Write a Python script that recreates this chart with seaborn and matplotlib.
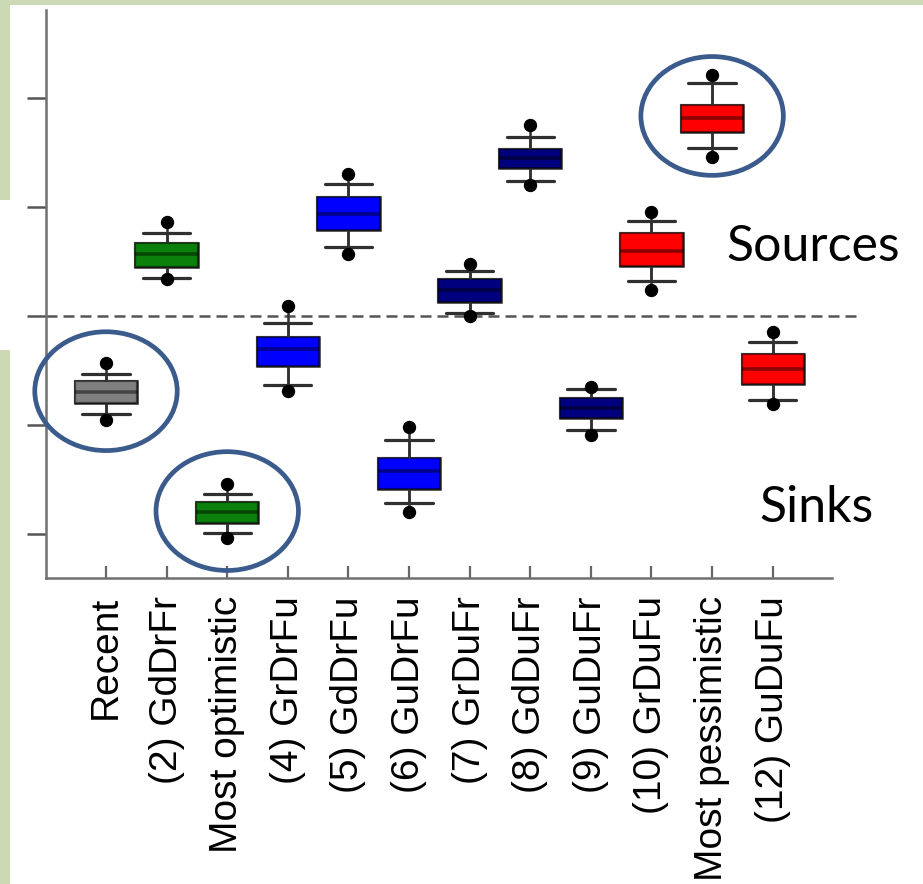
import numpy as np
import pandas as pd
import matplotlib
matplotlib.use("Agg")
import matplotlib.pyplot as plt
from matplotlib.patches import Ellipse, Rectangle
import seaborn as sns

# Scenario names along the x axis
scenarios = ["Recent", "(2) GdDrFr", "Most optimistic", "(4) GrDrFu",
             "(5) GdDrFu", "(6) GuDrFu", "(7) GrDuFr", "(8) GdDuFr",
             "(9) GuDuFr", "(10) GrDuFu", "Most pessimistic", "(12) GuDuFu"]

# Box statistics per scenario (net flux, arbitrary units; >0 source, <0 sink)
extreme_low  = [-0.95, 0.34, -2.04, -0.69, 0.57, -1.80, 0.00, 1.20, -1.09, 0.24, 1.46, -0.81]
whisker_low  = [-0.90, 0.35, -1.99, -0.63, 0.63, -1.72, 0.03, 1.24, -1.05, 0.32, 1.54, -0.77]
quartile_1   = [-0.80, 0.45, -1.90, -0.46, 0.79, -1.59, 0.13, 1.36, -0.94, 0.46, 1.69, -0.62]
medians      = [-0.70, 0.57, -1.80, -0.30, 0.94, -1.42, 0.24, 1.45, -0.84, 0.60, 1.82, -0.49]
quartile_3   = [-0.60, 0.67, -1.71, -0.19, 1.09, -1.30, 0.34, 1.53, -0.75, 0.76, 1.94, -0.35]
whisker_high = [-0.53, 0.76, -1.63, -0.06, 1.21, -1.14, 0.41, 1.64, -0.67, 0.87, 2.14, -0.24]
extreme_high = [-0.43, 0.86, -1.54, 0.09, 1.30, -1.02, 0.48, 1.75, -0.65, 0.95, 2.21, -0.15]

box_colors = ["#808080", "#0b800b", "#0b800b", "#0000ff", "#0000ff", "#0000ff",
              "#00007f", "#00007f", "#00007f", "#ff0000", "#ff0000", "#ff0000"]

y_ticks = [-2, -1, 0, 1, 2]
highlighted = ["Recent", "Most optimistic", "Most pessimistic"]

# Nine-point samples whose 12.5/25/50/75/87.5 percentiles are the statistics above
rows = []
for i, name in enumerate(scenarios):
    sample = [extreme_low[i], whisker_low[i], quartile_1[i], quartile_1[i], medians[i],
              quartile_3[i], quartile_3[i], whisker_high[i], extreme_high[i]]
    rows += [(name, v) for v in sample]
df = pd.DataFrame(rows, columns=["scenario", "flux"])
palette = dict(zip(scenarios, box_colors))

sns.set_style("white")
plt.rcParams["font.family"] = ["Liberation Sans", "DejaVu Sans"]

fig = plt.figure(figsize=(9.23, 8.84), dpi=100, facecolor="#cbdab5")
# white slide panel behind the chart
fig.patches.append(Rectangle((10 / 923, 0), 1, 1 - 5 / 884, transform=fig.transFigure,
                             facecolor="white", edgecolor="none", zorder=-10))
fig.patches.append(Rectangle((0, 1 - 350 / 884), 10 / 923, 150 / 884, transform=fig.transFigure,
                             facecolor="white", edgecolor="none", zorder=-10))

ax = fig.add_axes([46 / 923, (884 - 578) / 884, (860 - 46) / 923, (578 - 10) / 884])
ax.set_facecolor("none")

line_col = "#303030"
common = dict(data=df, x="scenario", y="flux", hue="scenario", palette=palette,
              order=scenarios, hue_order=scenarios, legend=False, saturation=1,
              width=1.03, ax=ax, linecolor=line_col, linewidth=1.8)

# full-range whisker stems running out to the extreme points
sns.boxplot(whis=(0, 100), showfliers=False, capprops={"linewidth": 0},
            medianprops={"linewidth": 0}, **common)

# boxes, capped whiskers and extreme points
sns.boxplot(whis=(12.5, 87.5), showfliers=True, capwidths=0.78,
            boxprops={"edgecolor": (0, 0, 0, 0.5), "linewidth": 1.6},
            medianprops={"color": "black", "alpha": 0.45, "linewidth": 2.6},
            capprops={"linewidth": 2.3},
            flierprops={"marker": "o", "markerfacecolor": "black",
                        "markeredgecolor": "black", "markersize": 8.6},
            **common)

# zero line separating sources from sinks
ax.axhline(0, color="#555555", lw=1.8, ls=(0, (4.4, 2.4)), zorder=0.5)

ax.set_xlim(-0.99, 12.44)
ax.set_ylim(-2.404, 2.807)
ax.set_yticks(y_ticks)
ax.set_yticklabels([])
ax.set_xticks(range(len(scenarios)))
ax.set_xticklabels(scenarios, rotation=90, fontsize=28, color="black")
ax.set_xlabel("")
ax.set_ylabel("")

for s in ["top", "right"]:
    ax.spines[s].set_visible(False)
for s in ["left", "bottom"]:
    ax.spines[s].set_color("#707070")
    ax.spines[s].set_linewidth(1.8)
ax.spines["bottom"].set_bounds(-0.99, 11.98)
ax.tick_params(axis="y", direction="out", length=13.5, width=1.8, color="#555555", left=True)
ax.tick_params(axis="x", direction="in", length=8.5, width=1.6, color="#666666",
               bottom=True, pad=13)

# highlight rings around the reference scenarios
for name in highlighted:
    i = scenarios.index(name)
    cy = (extreme_low[i] + extreme_high[i]) / 2
    ax.add_patch(Ellipse((i, cy), 2.35, 1.09, fill=False, edgecolor="#3b5b8c",
                         linewidth=3.4, clip_on=False, zorder=5))

fig.text(813 / 923, 1 - 247 / 884, "Sources", fontsize=36, family=["Lato", "DejaVu Sans"],
         ha="center", va="center", color="black")
fig.text(817 / 923, 1 - 508 / 884, "Sinks", fontsize=36, family=["Lato", "DejaVu Sans"],
         ha="center", va="center", color="black")

fig.savefig("out.png", dpi=100, facecolor=fig.get_facecolor())
